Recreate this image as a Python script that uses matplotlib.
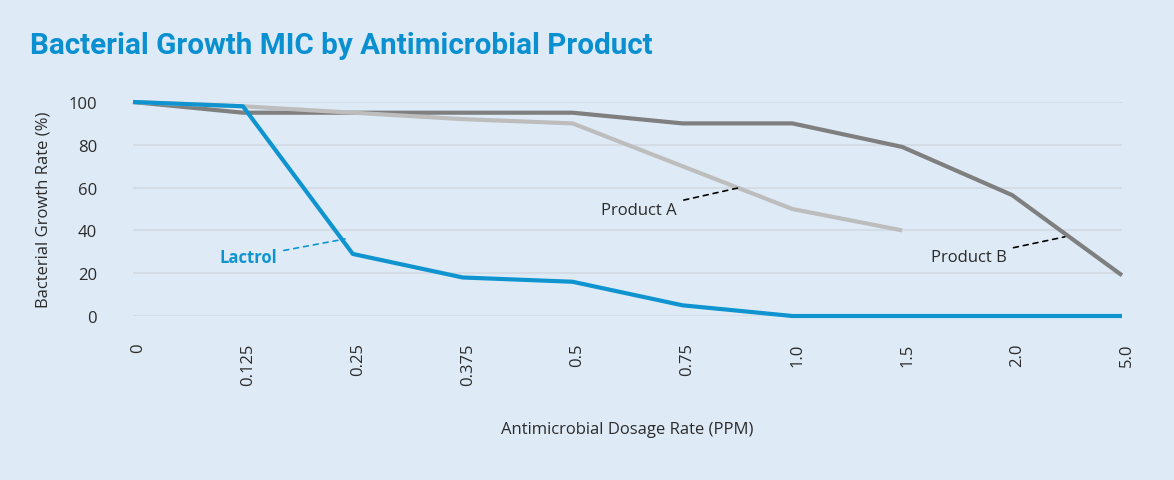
import matplotlib
matplotlib.use("Agg")
import matplotlib.pyplot as plt
import matplotlib.transforms as mtransforms

categories = ["0", "0.125", "0.25", "0.375", "0.5", "0.75", "1.0", "1.5", "2.0", "5.0"]
lactrol = [100, 98, 29, 18, 16, 5, 0, 0, 0, 0]
product_a = [100, 98, 95, 92, 90, 70, 50, 40]
product_b = [100, 95, 95, 95, 95, 90, 90, 79, 56.5, 19]
y_ticks = [0, 20, 40, 60, 80, 100]

BG = "#deebf7"
BLUE = "#0f94d0"
GRAY_A = "#bdbdbd"
GRAY_B = "#7f7f7f"
GRID = "#d4dde6"
TXT = "#2b2b2b"

plt.rcParams["font.family"] = ["Open Sans", "DejaVu Sans"]

fig = plt.figure(figsize=(11.74, 4.81), dpi=100, facecolor=BG)
W, H = 1174, 481
L, R, T, B = 133, 1122, 103, 317
ax = fig.add_axes([L / W, 1 - B / H, (R - L) / W, (B - T) / H], facecolor=BG)

x = list(range(len(categories)))
ax.plot(x[:len(product_b)], product_b, color=GRAY_B, lw=3, clip_on=False, zorder=3, solid_capstyle="butt")
ax.plot(x[:len(product_a)], product_a, color=GRAY_A, lw=3, clip_on=False, zorder=3, solid_capstyle="butt")
ax.plot(x, lactrol, color=BLUE, lw=3, clip_on=False, zorder=4, solid_capstyle="butt")

ax.set_xlim(0, len(categories) - 1)
ax.set_ylim(0, 100)
ax.set_yticks(y_ticks)
ax.set_yticklabels([str(v) for v in y_ticks])
ax.yaxis.grid(True, color=GRID, lw=1.5)
ax.set_axisbelow(True)
for s in ax.spines.values():
    s.set_visible(False)
ax.tick_params(axis="both", length=0, labelsize=12, labelcolor=TXT)
ax.tick_params(axis="y", pad=26)
ax.set_xticks(x)
ax.set_xticklabels(categories, rotation=90, va="top", ha="center")
ax.tick_params(axis="x", pad=19)
offset = mtransforms.ScaledTranslation(5 / 100, 0, fig.dpi_scale_trans)
for lbl in ax.get_xticklabels():
    lbl.set_transform(lbl.get_transform() + offset)

ax.set_ylabel("Bacterial Growth Rate (%)", fontsize=12, color=TXT)
ax.yaxis.set_label_coords((52 - L) / (R - L), 0.5)
ax.set_xlabel("Antimicrobial Dosage Rate (PPM)", fontsize=12, color=TXT)
ax.xaxis.set_label_coords((627 - L) / (R - L), -(422 - B) / (B - T))

fig.text(30 / W, 1 - 46 / H, "Bacterial Growth MIC by Antimicrobial Product",
         fontsize=21.3, fontweight="bold", color="#0a8fd0", va="center", ha="left",
         family=["Roboto", "DejaVu Sans"])

# annotations
dash = (0, (3, 3))
ax.annotate("Lactrol", xy=(1.93, 36), xytext=(1.31, 27.5), fontsize=12, fontweight="bold",
            color=BLUE, ha="right", va="center",
            arrowprops=dict(arrowstyle="-", linestyle=dash, color=BLUE, lw=1.2,
                            shrinkA=3, shrinkB=0))
ax.annotate("Product A", xy=(5.52, 60), xytext=(4.95, 49.5), fontsize=12,
            color=TXT, ha="right", va="center",
            arrowprops=dict(arrowstyle="-", linestyle=dash, color="black", lw=1.2,
                            shrinkA=3, shrinkB=0))
ax.annotate("Product B", xy=(8.48, 37), xytext=(7.95, 27.5), fontsize=12,
            color=TXT, ha="right", va="center",
            arrowprops=dict(arrowstyle="-", linestyle=dash, color="black", lw=1.2,
                            shrinkA=3, shrinkB=0))

fig.savefig("out.png", dpi=100, facecolor=BG)
